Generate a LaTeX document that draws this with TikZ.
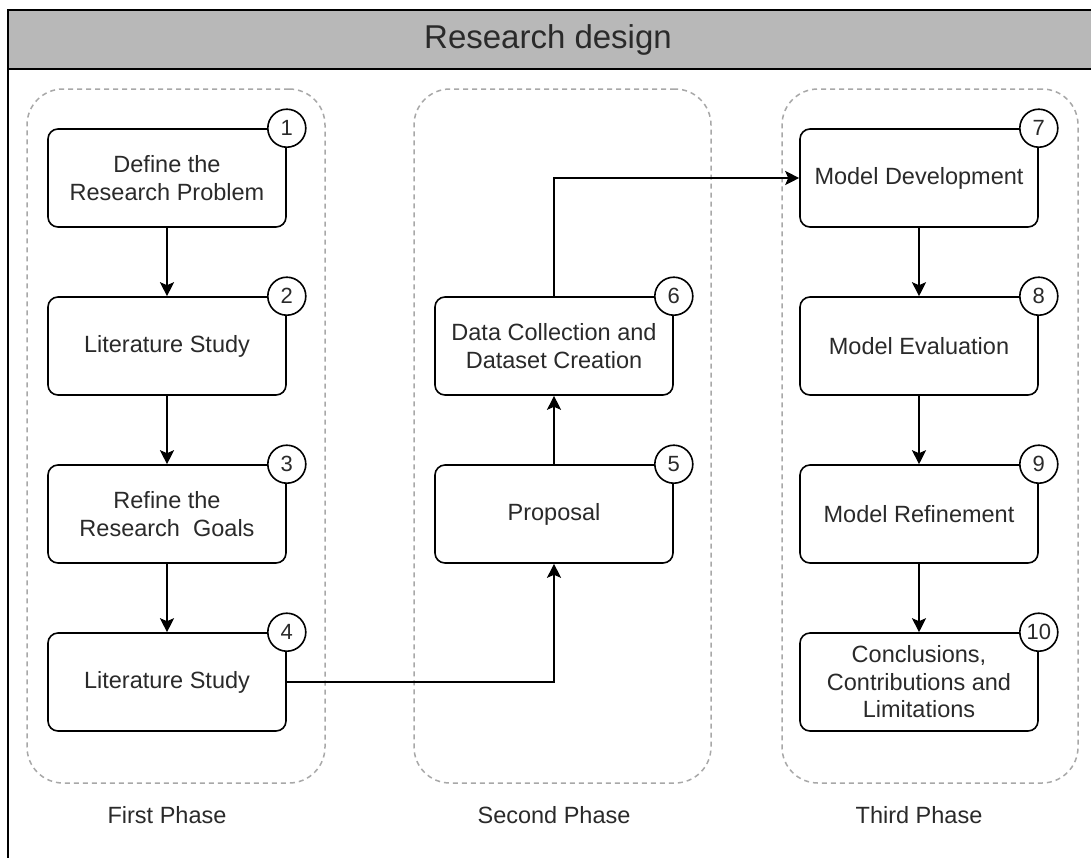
\documentclass[tikz,border=0pt]{standalone}
\usepackage{fontspec}
\setmainfont{Liberation Sans}
\usetikzlibrary{arrows.meta}
\definecolor{txt}{HTML}{2A2A2A}
\definecolor{bar}{HTML}{B8B8B8}
\definecolor{dashc}{HTML}{A8A8A8}
\begin{document}
\begin{tikzpicture}[x=1pt,y=-1pt,
  frame/.style={draw=black, line width=2pt},
  stepbox/.style={draw=black, line width=1.6pt, rounded corners=10pt,
    minimum width=238pt, minimum height=98pt, inner sep=0pt, align=center,
    font=\fontsize{23.5}{27.5}\selectfont, text=txt},
  num/.style={draw=black, circle, fill=white, line width=1.6pt,
    minimum size=38pt, inner sep=0pt, font=\fontsize{22}{26}\selectfont, text=txt},
  arr/.style={draw=black, line width=1.6pt,
    -{Stealth[length=14pt,width=14pt,inset=3pt]}},
  phasebox/.style={draw=dashc, line width=1.5pt, dash pattern=on 5pt off 4pt,
    rounded corners=36pt, minimum height=694pt, inner sep=0pt},
  phaselabel/.style={font=\fontsize{23.5}{27.5}\selectfont, text=txt},
  titletext/.style={font=\fontsize{33}{40}\selectfont, text=txt}]
\useasboundingbox (0,0) rectangle (1091,857);
\clip (0,0) rectangle (1091,857);
\fill[white] (0,0) rectangle (1091,857);

% frame and title bar
\draw[frame, fill=bar] (8,10) rectangle (1110,69);
\draw[frame] (8,69) -- (8,880);
\node[titletext] (title) at (548,40) {Research design};

% phase containers
\node[phasebox, minimum width=298pt] (p1) at (176,436) {};
\node[phasebox, minimum width=297pt] (p2) at (562.5,436) {};
\node[phasebox, minimum width=296pt] (p3) at (930,436) {};

% first column
\node[stepbox] (b1) at (167,178) {Define the\\Research Problem};
\node[stepbox] (b2) at (167,346) {Literature Study};
\node[stepbox] (b3) at (167,514) {Refine the\\Research~ Goals};
\node[stepbox] (b4) at (167,682) {Literature Study};

% second column
\node[stepbox] (b5) at (554,514) {Proposal};
\node[stepbox] (b6) at (554,346) {Data Collection and\\Dataset Creation};

% third column
\node[stepbox] (b7) at (919,178) {Model Development};
\node[stepbox] (b8) at (919,346) {Model Evaluation};
\node[stepbox] (b9) at (919,514) {Model Refinement};
\node[stepbox] (b10) at (919,682) {Conclusions,\\Contributions and\\Limitations};

% numbers
\node[num] (n1) at (b1.north east) {1};
\node[num] (n2) at (b2.north east) {2};
\node[num] (n3) at (b3.north east) {3};
\node[num] (n4) at (b4.north east) {4};
\node[num] (n5) at (b5.north east) {5};
\node[num] (n6) at (b6.north east) {6};
\node[num] (n7) at (b7.north east) {7};
\node[num] (n8) at (b8.north east) {8};
\node[num] (n9) at (b9.north east) {9};
\node[num] (n10) at (b10.north east) {10};

% connectors
\draw[arr] (b1) -- (b2);
\draw[arr] (b2) -- (b3);
\draw[arr] (b3) -- (b4);
\draw[arr] (b4.east) -| (b5.south);
\draw[arr] (b5) -- (b6);
\draw[arr] (b6.north) |- (b7.west);
\draw[arr] (b7) -- (b8);
\draw[arr] (b8) -- (b9);
\draw[arr] (b9) -- (b10);

% phase labels
\node[phaselabel] (l1) at (167,815) {First Phase};
\node[phaselabel] (l2) at (554,815) {Second Phase};
\node[phaselabel] (l3) at (919,815) {Third Phase};
\end{tikzpicture}
\end{document}
